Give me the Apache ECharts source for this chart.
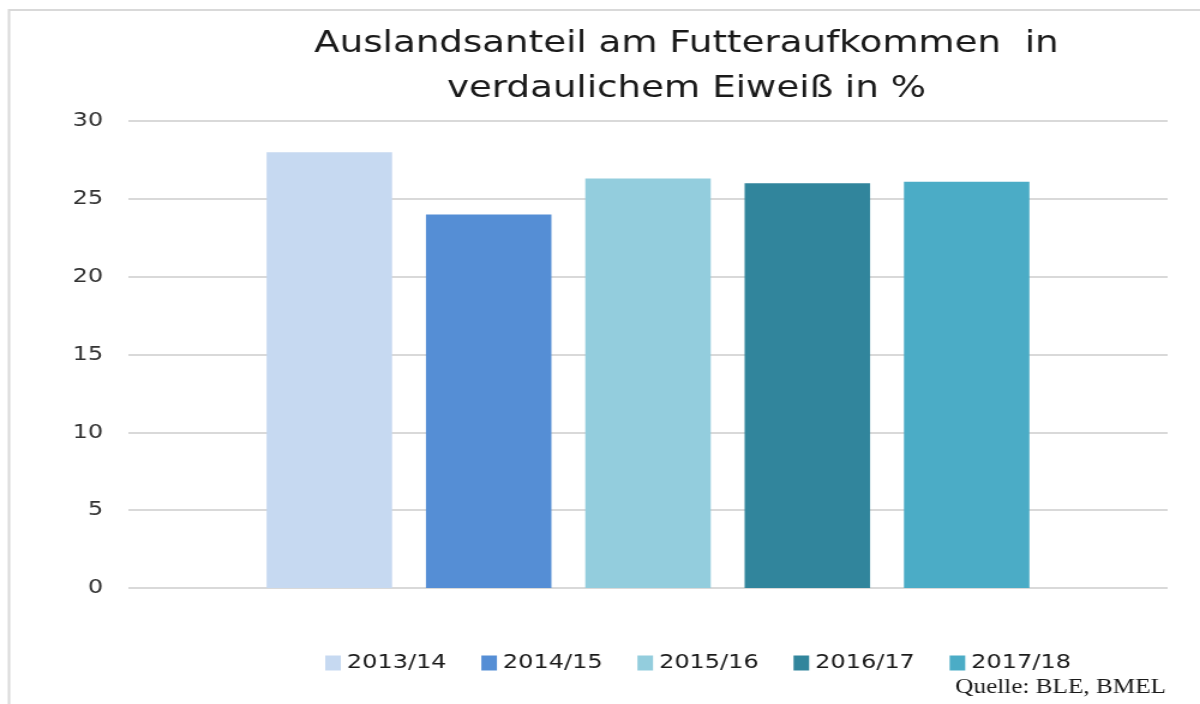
<!DOCTYPE html>
<html>
<head>
<meta charset="utf-8">
<script src="https://cdn.jsdelivr.net/npm/echarts@6/dist/echarts.min.js"></script>
<style>
  html, body { margin: 0; padding: 0; background: #fff; overflow: hidden; }
  /* the source picture is stretched horizontally, so draw narrow and widen */
  #chart { width: 1000px; height: 704px; transform: scaleX(1.2); transform-origin: 0 0; }
</style>
</head>
<body>
<div id="chart"></div>
<script>
const seasons = ['2013/14', '2014/15', '2015/16', '2016/17', '2017/18']
const shares = [28.0, 24.0, 26.3, 26.0, 26.1]
const barColors = ['#C6D9F1', '#558ED5', '#93CDDD', '#31859C', '#4BACC6']
const yTicks = [0, 5, 10, 15, 20, 25, 30]

const chart = echarts.init(document.getElementById('chart'), null, { renderer: 'canvas' })

const series = seasons.map((s, i) => ({
  name: s,
  type: 'bar',
  data: [shares[i]],
  barGap: '27%',
  barCategoryGap: '26.6%',
  itemStyle: { color: barColors[i] },
  emphasis: { disabled: true }
}))

chart.setOption({
  backgroundColor: '#fff',
  animation: false,
  title: {
    text: 'Auslandsanteil am Futteraufkommen  in\nverdaulichem Eiweiß in %',
    left: 567,
    top: 16,
    textAlign: 'center',
    textStyle: {
      fontFamily: 'DejaVu Sans',
      fontSize: 31,
      fontWeight: 'normal',
      color: '#1a1a1a',
      lineHeight: 45
    }
  },
  grid: { left: 107, right: 27, top: 121, bottom: 116, containLabel: false },
  legend: {
    data: seasons,
    bottom: 26,
    left: 266,
    itemWidth: 13,
    itemHeight: 15,
    itemGap: 29,
    icon: 'rect',
    textStyle: { fontFamily: 'DejaVu Sans', fontSize: 20, color: '#1a1a1a' }
  },
  xAxis: {
    type: 'category',
    data: [''],
    axisLine: { show: false },
    axisTick: { show: false },
    axisLabel: { show: false }
  },
  yAxis: {
    type: 'value',
    min: yTicks[0],
    max: yTicks[yTicks.length - 1],
    interval: 5,
    axisLine: { show: false },
    axisTick: { show: false },
    axisLabel: { margin: 21, fontFamily: 'DejaVu Sans', fontSize: 20, color: '#333' },
    splitLine: { lineStyle: { color: '#d9d9d9', width: 2 } }
  },
  graphic: [
    {
      type: 'rect',
      shape: { x: 7.5, y: 10, width: 1100, height: 800 },
      style: { fill: 'none', stroke: '#d9d9d9', lineWidth: 2 }
    },
    {
      type: 'text',
      left: 796,
      top: 677,
      style: { text: 'Quelle: BLE, BMEL', font: '21px "Liberation Serif"', fill: '#1a1a1a' }
    }
  ],
  series
})
</script>
</body>
</html>
